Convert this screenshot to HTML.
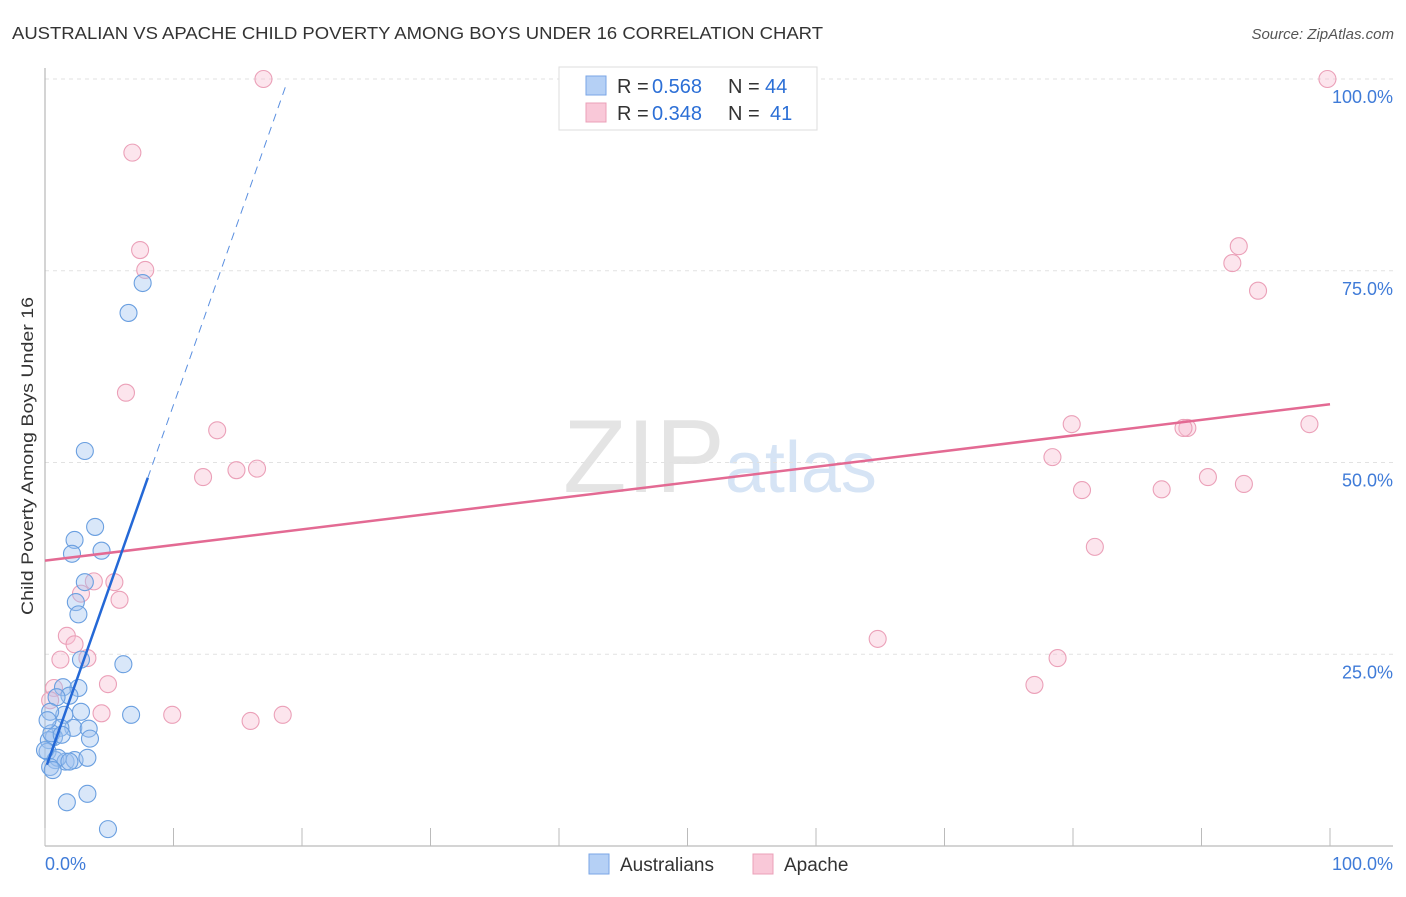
<!DOCTYPE html>
<html><head><meta charset="utf-8"><style>
body{margin:0;background:#fff;font-family:"Liberation Sans",sans-serif;}
svg text{font-family:"Liberation Sans",sans-serif;}
</style></head><body>
<svg id="chart" width="1406" height="892" xmlns="http://www.w3.org/2000/svg">
<text x="12" y="39" font-size="17.5" fill="#333" textLength="811" lengthAdjust="spacingAndGlyphs">AUSTRALIAN VS APACHE CHILD POVERTY AMONG BOYS UNDER 16 CORRELATION CHART</text>
<text x="1394" y="39" font-size="15" fill="#555" text-anchor="end" font-style="italic">Source: ZipAtlas.com</text>
<text x="720" y="492" font-size="104" fill="#e4e4e4" text-anchor="middle" font-family="Liberation Serif">ZIP<tspan fill="#d6e4f5" font-family="Liberation Sans" font-size="72">atlas</tspan></text>
<g id="grid"></g><g id="axes"></g><g id="marks"></g>
<text transform="translate(33,456) rotate(-90)" font-size="17" fill="#333" text-anchor="middle" textLength="318" lengthAdjust="spacingAndGlyphs">Child Poverty Among Boys Under 16</text>
<g>
<rect x="559" y="67" width="258" height="63" fill="#fff" stroke="#ddd"/>
<rect x="586" y="76" width="20" height="19" fill="#b5d0f5" stroke="#7aa6e6"/>
<text x="617" y="93" font-size="20" fill="#333">R =</text>
<text x="652" y="93" font-size="20" fill="#2c6fd6">0.568</text>
<text x="728" y="93" font-size="20" fill="#333">N =</text>
<text x="765" y="93" font-size="20" fill="#2c6fd6">44</text>
<rect x="586" y="103" width="20" height="19" fill="#f9c8d8" stroke="#eba0b8"/>
<text x="617" y="120" font-size="20" fill="#333">R =</text>
<text x="652" y="120" font-size="20" fill="#2c6fd6">0.348</text>
<text x="728" y="120" font-size="20" fill="#333">N =</text>
<text x="770" y="120" font-size="20" fill="#2c6fd6">41</text>
</g>
<g>
<rect x="589" y="854" width="20" height="20" fill="#b5d0f5" stroke="#7aa6e6"/>
<text x="620" y="871" font-size="19" fill="#333">Australians</text>
<rect x="753" y="854" width="20" height="20" fill="#f9c8d8" stroke="#eba0b8"/>
<text x="784" y="871" font-size="19" fill="#333">Apache</text>
</g>
</svg>
<script>
const blueX=[7.6,6.5,3.1,3.9,2.3,4.4,2.1,3.1,2.4,2.6,2.8,6.1,1.4,2.6,1.9,0.9,2.8,1.5,6.7,0.4,2.2,1.2,3.4,3.5,0.7,0.3,0.5,0.2,0.8,1.6,2.3,3.3,1.0,0.4,1.7,3.3,4.9,0.0,0.2,1.3,1.9,0.6];
const blueY=[73.4,69.5,51.5,41.6,39.9,38.5,38.1,34.4,31.8,30.2,24.3,23.7,20.7,20.6,19.6,19.4,17.5,17.1,17.1,17.5,15.4,15.4,15.3,14.0,14.2,13.8,14.7,12.3,11.2,11.0,11.2,11.5,11.5,10.3,5.7,6.8,2.2,12.5,16.4,14.5,11.0,9.9];
const pinkX=[17.0,99.8,6.8,7.4,7.8,92.9,92.4,94.4,6.3,13.4,79.9,88.9,88.6,98.4,12.3,14.9,16.5,78.4,80.7,86.9,90.5,93.3,81.7,3.8,5.4,2.8,5.8,1.7,2.3,1.2,3.3,64.8,78.8,77.0,4.9,0.7,4.4,9.9,16.0,18.5,0.4];
const pinkY=[100,100,90.4,77.7,75.1,78.2,76.0,72.4,59.1,54.2,55.0,54.5,54.5,55.0,48.1,49.0,49.2,50.7,46.4,46.5,48.1,47.2,39.0,34.5,34.4,32.9,32.1,27.4,26.3,24.3,24.5,27.0,24.5,21.0,21.1,20.6,17.3,17.1,16.3,17.1,19.0];
const blueTrend=[0.15,10.6,8.0,48.0,18.8,99.4];
const pinkTrend=[0,37.2,100,57.6];
const yTicks=[25,50,75,100];
const yTickLabels=["25.0%","50.0%","75.0%","100.0%"];
const xTicks=[0,10,20,30,40,50,60,70,80,90,100];
const NS="http://www.w3.org/2000/svg";
const sx=v=>45+v*12.85, sy=v=>846-v*7.67;
function mk(p,tag,a){const e=document.createElementNS(NS,tag);for(const k in a)e.setAttribute(k,a[k]);document.getElementById(p).appendChild(e);return e;}
yTicks.forEach((t,i)=>{
 const l=mk('grid','line',{x1:45,x2:1393,y1:sy(t),y2:sy(t),stroke:'#e2e2e2','stroke-dasharray':'4,4'});
 
 
 const tx=mk('axes','text',{x:1393,y:sy(t)+24,'font-size':18,fill:'#3f7bd8','text-anchor':'end'});
 tx.textContent=yTickLabels[i];
 
 
});
let ax=mk('axes','line',{x1:45,x2:45,y1:68,y2:846,stroke:'#aaa'});


ax=mk('axes','line',{x1:45,x2:1393,y1:846,y2:846,stroke:'#aaa'});


xTicks.forEach(t=>{const l=mk('axes','line',{x1:sx(t),x2:sx(t),y1:828,y2:846,stroke:'#bbb'});
 
 });
let t0=mk('axes','text',{x:45,y:870,'font-size':18,fill:'#3f7bd8'});t0.textContent=xTicks[0].toFixed(1)+'%';


let t1=mk('axes','text',{x:1393,y:870,'font-size':18,fill:'#3f7bd8','text-anchor':'end'});t1.textContent=xTicks[xTicks.length-1].toFixed(1)+'%';


pinkX.forEach((x,i)=>{const c=mk('marks','circle',{cx:sx(x),cy:sy(pinkY[i]),r:8.5,fill:'rgba(248,190,210,0.4)',stroke:'#eba0b8','stroke-width':1.1});
 
 });
blueX.forEach((x,i)=>{const c=mk('marks','circle',{cx:sx(x),cy:sy(blueY[i]),r:8.5,fill:'rgba(160,196,240,0.4)',stroke:'#6a9fe0','stroke-width':1.1});
 
 });
let tl=mk('marks','line',{x1:sx(pinkTrend[0]),y1:sy(pinkTrend[1]),x2:sx(pinkTrend[2]),y2:sy(pinkTrend[3]),stroke:'#e36a93','stroke-width':2.5});


tl=mk('marks','line',{x1:sx(blueTrend[0]),y1:sy(blueTrend[1]),x2:sx(blueTrend[2]),y2:sy(blueTrend[3]),stroke:'#2468d6','stroke-width':2.5});


tl=mk('marks','line',{x1:sx(blueTrend[2]),y1:sy(blueTrend[3]),x2:sx(blueTrend[4]),y2:sy(blueTrend[5]),stroke:'#5a8fe0','stroke-width':1,'stroke-dasharray':'8,6'});


</script>
</body></html>
